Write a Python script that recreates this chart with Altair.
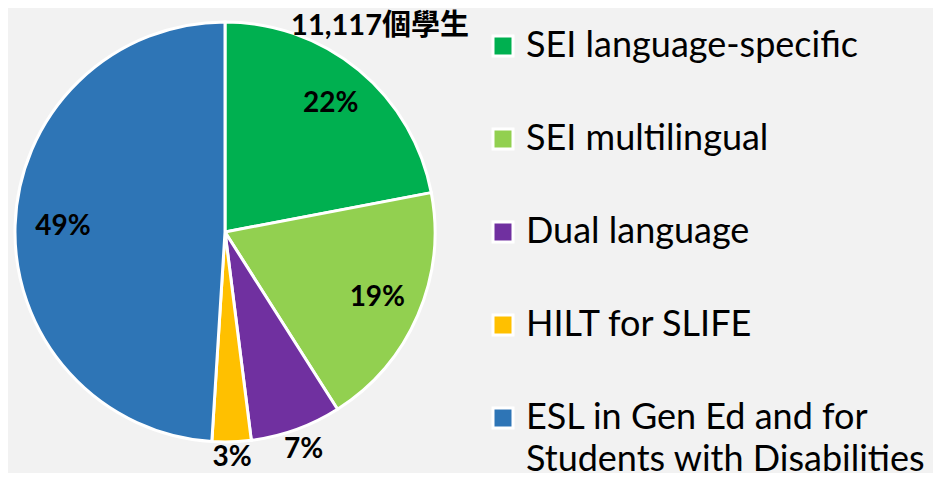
import altair as alt
import pandas as pd

programs = ["SEI language-specific", "SEI multilingual", "Dual language", "HILT for SLIFE",
            "ESL in Gen Ed and for\nStudents with Disabilities"]
shares = [22, 19, 7, 3, 49]
labels = ["22%", "19%", "7%", "3%", "49%"]
label_radius = [166, 166, 232, 226, 162]
colors = ["#00b050", "#92d050", "#7030a0", "#ffc000", "#2e75b6"]
title_text = "11,117個學生"

df = pd.DataFrame({
    "program": programs,
    "value": shares,
    "label": labels,
    "lr": label_radius,
    "order": list(range(len(programs))),
})

FONT = "Lato, 'Noto Sans CJK TC', sans-serif"
cx, cy = 217, 224

pie = alt.Chart(df).mark_arc(outerRadius=210, stroke="white", strokeWidth=3).encode(
    theta=alt.Theta("value:Q", stack=True),
    order=alt.Order("order:Q"),
    x=alt.value(cx),
    y=alt.value(cy),
    color=alt.Color(
        "program:N",
        scale=alt.Scale(domain=programs, range=colors),
        sort=programs,
        legend=alt.Legend(
            title=None,
            orient="none",
            legendX=477,
            legendY=20,
            padding=0,
            symbolType="square",
            symbolSize=400,
            symbolStrokeColor="white",
            symbolStrokeWidth=3,
            symbolOpacity=1,
            labelFont=FONT,
            labelFontSize=36,
            labelColor="black",
            labelLimit=600,
            labelOffset=5,
            labelBaseline="middle",
            labelExpr="split(datum.label, '\\n')",
            rowPadding=57,
        ),
    ),
)

text = (
    alt.Chart(df)
    .transform_joinaggregate(total="sum(value)")
    .transform_window(cum="sum(value)", sort=[alt.SortField("order")], frame=[None, 0])
    .transform_calculate(ang="(datum.cum - datum.value / 2) / datum.total * 2 * PI")
    .mark_text(font=FONT, fontSize=28, fontWeight="bold", color="black")
    .encode(
        theta=alt.Theta("ang:Q", scale=None, stack=False),
        radius=alt.Radius("lr:Q", scale=None),
        x=alt.value(cx),
        y=alt.value(cy),
        text="label:N",
    )
)

title = (
    alt.Chart(pd.DataFrame({"t": [title_text]}))
    .mark_text(font=FONT, fontSize=29, fontWeight="bold", color="black", baseline="alphabetic")
    .encode(text="t:N", x=alt.value(372), y=alt.value(27))
)

chart = (
    alt.layer(pie, text, title)
    .properties(
        width=925,
        height=465,
        autosize="none",
        padding=0,
        background="#f2f2f2",
    )
    .configure(style={"guide-label": {"lineHeight": 42}})
    .configure_view(stroke=None)
)

chart.save("out.html", embed_options={"renderer": "svg", "actions": False})
